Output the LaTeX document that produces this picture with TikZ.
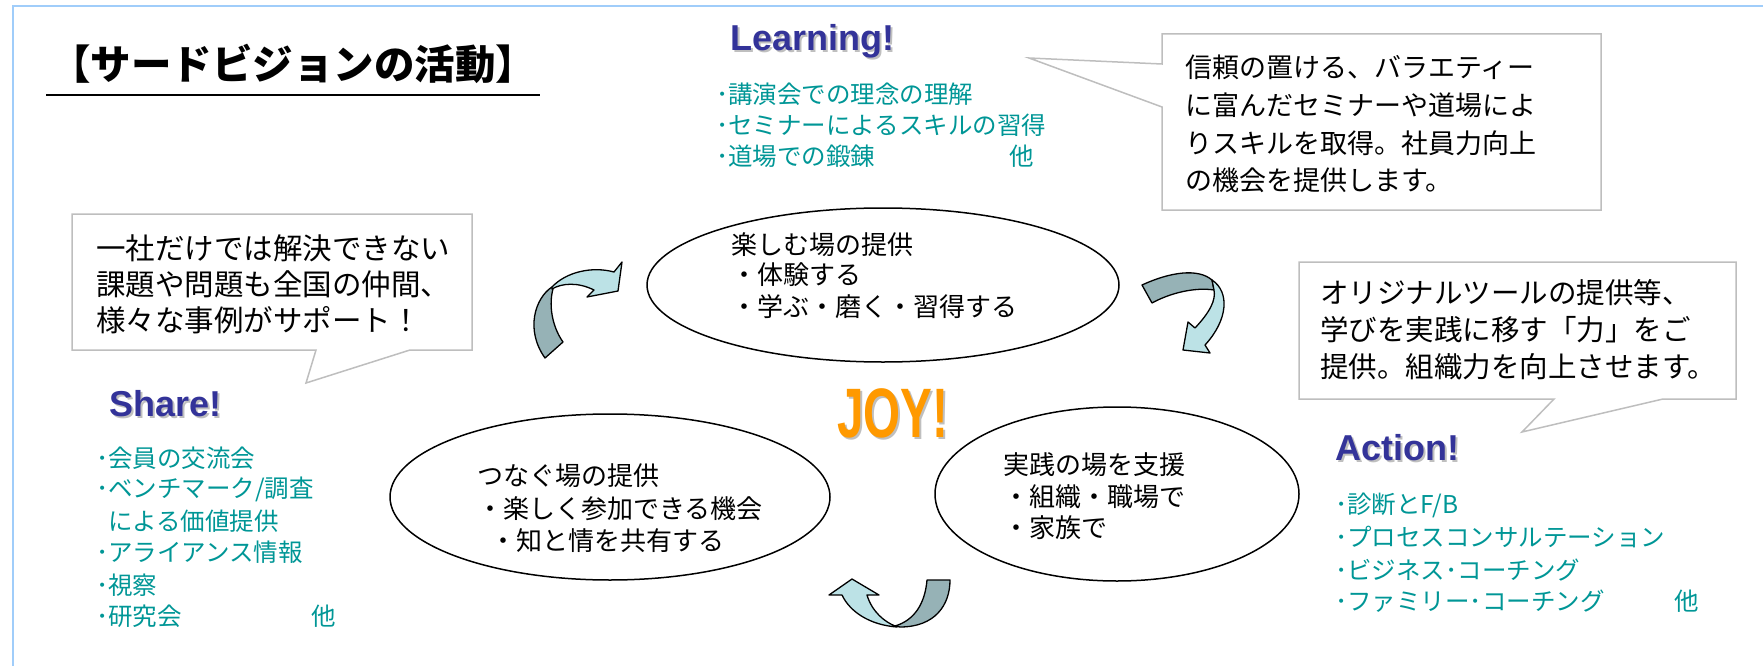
\documentclass[tikz,border=0pt]{standalone}
\usepackage{fontspec}
\setmainfont{Liberation Sans}
\newfontfamily\jp{Noto Sans CJK JP}
\newfontfamily\lat{Liberation Sans}
\usetikzlibrary{calc,shapes.geometric}
\definecolor{frameblue}{RGB}{160,205,250}
\definecolor{titleblue}{RGB}{51,51,153}
\definecolor{tealtxt}{RGB}{0,150,150}
\definecolor{joyorange}{RGB}{255,153,0}
\definecolor{callgrey}{RGB}{190,190,190}
\definecolor{arrdark}{RGB}{150,178,182}
\definecolor{arrlight}{RGB}{188,226,230}
\begin{document}
\begin{tikzpicture}[x=1pt,y=-1pt,
  every node/.style={inner sep=0pt,outer sep=0pt},
  heading/.style={font=\lat\bfseries\fontsize{36}{40}\selectfont,text=titleblue,anchor=base west},
  headshadow/.style={font=\lat\bfseries\fontsize{36}{40}\selectfont,text=black!25,anchor=base west},
  item/.style={font=\jp\fontsize{24.5}{28}\selectfont,text=tealtxt,anchor=west},
  body/.style={font=\jp\fontsize{26}{30}\selectfont,anchor=west},
  calltext/.style={font=\jp\fontsize{28.5}{32}\selectfont,anchor=west},
  callbox/.style={draw=callgrey,line width=1.5pt,fill=white,line join=miter},
  oval/.style={ellipse,draw=black,line width=1.5pt,fill=white},
  arrowdark/.style={fill=arrdark,draw=black,line width=1.3pt,line join=round},
  arrowlight/.style={fill=arrlight,draw=black,line width=1.3pt,line join=round},
]
\useasboundingbox (0,0) rectangle (1763,666);
% frame
\draw[frameblue,line width=2.5pt] (13,666) -- (13,6) -- (1763,6);

% title
\node[font=\jp\bfseries\fontsize{40.5}{46}\selectfont,anchor=base west] (title) at (50,80) {【サードビジョンの活動】};
\draw[line width=2.5pt] ($(title.base west)+(-4,15)$) -- ($(title.base east)+(4,15)$);

% ellipses
\node[oval,minimum width=472pt,minimum height=154pt] (eTop) at (883,285) {};
\node[oval,minimum width=440pt,minimum height=166pt] (eLeft) at (610,497) {};
\node[oval,minimum width=364pt,minimum height=174pt] (eRight) at (1117,494) {};

\node[body] (t1) at (731,245) {楽しむ場の提供};
\node[body] (t2) at (731,275) {・体験する};
\node[body] (t3) at (731,307) {・学ぶ・磨く・習得する};

\node[body] (b1) at (477,476) {つなぐ場の提供};
\node[body] (b2) at (477,509) {・楽しく参加できる機会};
\node[body] (b3) at (490,541) {・知と情を共有する};

\node[body] (r1) at (1003,465) {実践の場を支援};
\node[body] (r2) at (1003,497) {・組織・職場で};
\node[body] (r3) at (1003,528) {・家族で};

% callouts
\draw[callbox] (1162,34) -- (1601,34) -- (1601,210) -- (1162,210) -- (1162,107) -- (1029,58) -- (1162,64) -- cycle;
\node[calltext,font=\jp\fontsize{27}{31}\selectfont] (c1a) at (1185,67) {信頼の置ける、バラエティー};
\node[calltext,font=\jp\fontsize{27}{31}\selectfont] (c1b) at (1185,105) {に富んだセミナーや道場によ};
\node[calltext,font=\jp\fontsize{27}{31}\selectfont] (c1c) at (1185,143) {りスキルを取得。社員力向上};
\node[calltext,font=\jp\fontsize{27}{31}\selectfont] (c1d) at (1185,180) {の機会を提供します。};

\draw[callbox] (72,214) -- (472,214) -- (472,350) -- (410,350) -- (306,383) -- (316,350) -- (72,350) -- cycle;
\node[calltext,font=\jp\fontsize{29.5}{33}\selectfont] (c2a) at (96,248) {一社だけでは解決できない};
\node[calltext,font=\jp\fontsize{29.5}{33}\selectfont] (c2b) at (96,284) {課題や問題も全国の仲間、};
\node[calltext,font=\jp\fontsize{29.5}{33}\selectfont] (c2c) at (96,320) {様々な事例がサポート！};

\draw[callbox] (1299,262) -- (1736,262) -- (1736,399) -- (1663,399) -- (1522,432) -- (1554,399) -- (1299,399) -- cycle;
\node[calltext] (c3a) at (1320,293) {オリジナルツールの提供等、};
\node[calltext] (c3b) at (1320,330) {学びを実践に移す「力」をご};
\node[calltext] (c3c) at (1320,367) {提供。組織力を向上させます。};

% headings
\node[headshadow] (hLs) at (732,53) {Learning!};
\node[heading] (hL) at (730,51) {Learning!};
\node[headshadow] (hSs) at (111,418) {Share!};
\node[heading] (hS) at (109,416) {Share!};
\node[headshadow] (hAs) at (1337,462) {Action!};
\node[heading] (hA) at (1335,460) {Action!};

% JOY
\node[font=\lat\bfseries\fontsize{70}{70}\selectfont,text=black!25] (joys) at (895,415) {\scalebox{0.68}[1]{JOY!}};
\node[font=\lat\bfseries\fontsize{70}{70}\selectfont,text=joyorange] (joy) at (893,413) {\scalebox{0.68}[1]{JOY!}};

% lists
\node[item] (l1) at (716,94) {･講演会での理念の理解};
\node[item] (l2) at (716,125) {･セミナーによるスキルの習得};
\node[item] (l3) at (716,156) {･道場での鍛錬};
\node[item] (l4) at (1009,156) {他};

\node[item] (s1) at (96,458) {･会員の交流会};
\node[item] (s2) at (96,489) {･ベンチマーク/調査};
\node[item] (s3) at (108,521) {による価値提供};
\node[item] (s4) at (96,552) {･アライアンス情報};
\node[item] (s5) at (96,585) {･視察};
\node[item] (s6) at (96,616) {･研究会};
\node[item] (s7) at (311,616) {他};

\node[item] (a1) at (1335,505) {･診断とF/B};
\node[item] (a2) at (1335,537) {･プロセスコンサルテーション};
\node[item] (a3) at (1335,570) {･ビジネス･コーチング};
\node[item] (a4) at (1335,601) {･ファミリー･コーチング};
\node[item] (a5) at (1674,601) {他};

% curved arrows
% A: Share -> Learning
\draw[arrowdark] (545,358) -- (563,342) .. controls (551,325) and (549,303) .. (553,289) -- (552,287) .. controls (535,298) and (525,330) .. (545,358) -- cycle;
\draw[arrowlight] (552,287) .. controls (566,272) and (592,266) .. (614,272) -- (622,262) -- (618,291) -- (587,297) -- (594,290) .. controls (578,282) and (562,283) .. (552,289) -- cycle;
% B: Learning -> Action
\draw[arrowdark] (1142,285) -- (1152,303) .. controls (1170,293) and (1195,287) .. (1214,290) -- (1212,280) .. controls (1198,268) and (1170,272) .. (1142,285) -- cycle;
\draw[arrowlight] (1212,280) .. controls (1230,292) and (1228,320) .. (1205,345) -- (1210,353) -- (1183,350) -- (1188,322) -- (1195,328) .. controls (1210,312) and (1216,300) .. (1214,290) -- cycle;
% C: Action -> Share
\draw[arrowdark] (927,580) -- (950,580) .. controls (950,605) and (935,627) .. (900,627) -- (895,626) .. controls (915,620) and (925,603) .. (927,580) -- cycle;
\draw[arrowlight] (897,627) .. controls (870,625) and (850,612) .. (842,595) -- (829,595) -- (852,579) -- (879,595) -- (867,595) .. controls (872,612) and (885,622) .. (895,626) -- cycle;
\end{tikzpicture}
\end{document}
